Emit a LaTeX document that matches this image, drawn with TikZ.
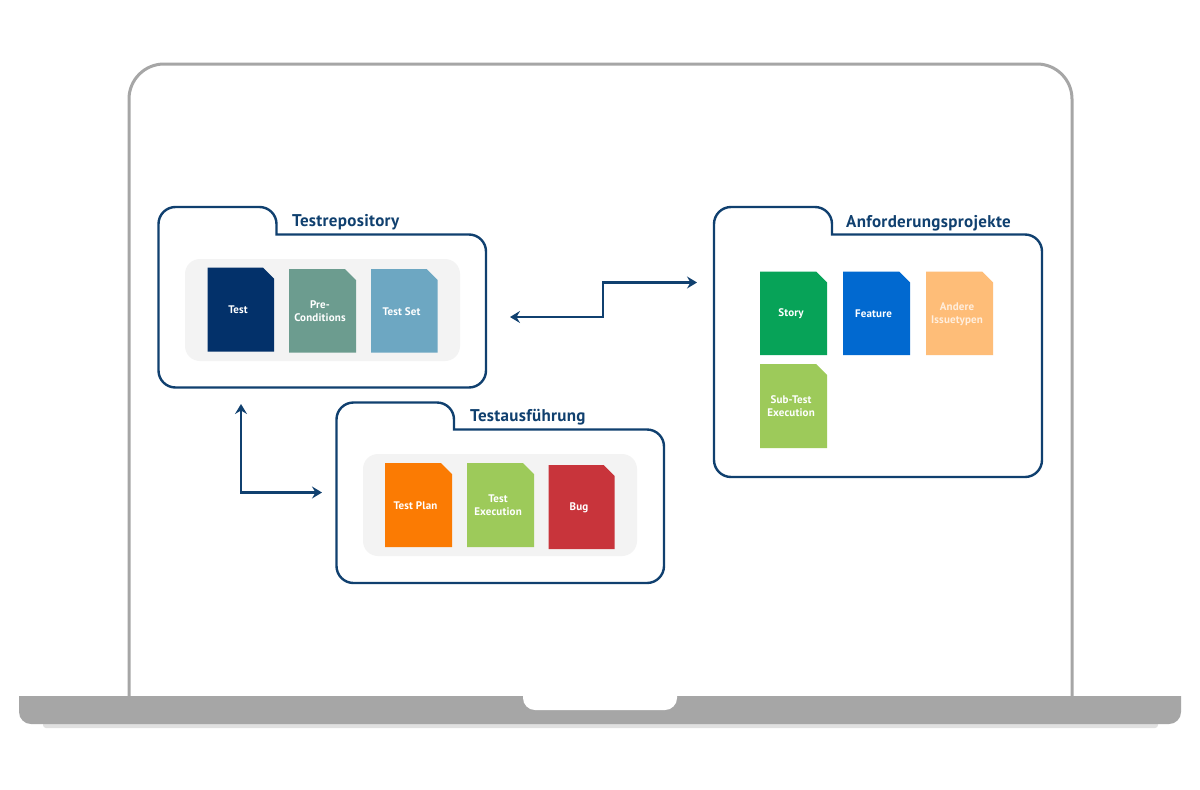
\documentclass[tikz,border=0pt]{standalone}
\usepackage{fontspec}
\setmainfont{PT Sans}
\newfontfamily\titlefont[LetterSpace=1.8]{PT Sans}
\newfontfamily\labelfont[LetterSpace=1.5]{PT Sans}
\usetikzlibrary{arrows.meta}
\definecolor{navy}{HTML}{10406F}
\definecolor{frameg}{HTML}{A6A6A6}
\definecolor{panelg}{HTML}{F3F3F3}
\definecolor{dTest}{HTML}{03316A}
\definecolor{dPre}{HTML}{6C9C8F}
\definecolor{dSet}{HTML}{6DA7C2}
\definecolor{dPlan}{HTML}{FB7B03}
\definecolor{dExec}{HTML}{9DCA5A}
\definecolor{dBug}{HTML}{C8343B}
\definecolor{dStory}{HTML}{07A358}
\definecolor{dFeat}{HTML}{0169D0}
\definecolor{dOther}{HTML}{FEBD78}
\colorlet{paletext}{white!75!dOther}
\tikzset{
  x=1pt,y=-1pt,
  folderline/.style={draw=navy,line width=2.4pt,fill=white,line cap=rect,rounded corners=17pt},
  paneltile/.style={fill=panelg,rounded corners=15pt},
  foldertitle/.style={text=navy,font=\titlefont\fontsize{17}{19}\selectfont\bfseries,anchor=base west,inner sep=0pt},
  doclabel/.style={text=white,font=\labelfont\fontsize{11}{13}\selectfont\bfseries,align=center,inner sep=0pt},
  flow/.style={draw=navy,line width=2.2pt,line join=miter,{Stealth[length=10pt,width=12pt,inset=3.5pt]}-{Stealth[length=10pt,width=12pt,inset=3.5pt]}},
}
\newcommand{\docsheet}[8]{% name,x0,y0,x1,y1,colour,label x,label
  \fill[#6] (#2,#3) -- ({#4-11},#3) -- (#4,{#3+11}) -- (#4,#5) -- (#2,#5) -- cycle;
  \node[doclabel] (#1) at (#7,{(#3+#5)/2+0.5}) {#8};
}
\newcommand{\folderpath}[6]{% left,top,tabx,shelf,right,bottom
  \draw[folderline] (#3,#4) -- (#5,#4) -- (#5,#6) -- (#1,#6) -- (#1,#2) -- (#3,#2) -- (#3,#4);
}
\begin{document}
\begin{tikzpicture}
\useasboundingbox (0,0) rectangle (1200,790);
\fill[white] (0,0) rectangle (1200,790);
% laptop
\fill[frameg!35!white,rounded corners=3pt] (43,716) rectangle (1158,728);
\draw[frameg,line width=3pt,rounded corners=35pt] (129,700) -- (129,64) -- (1072,64) -- (1072,700);
\begin{scope}
\clip (0,696) rectangle (1200,790);
\fill[frameg,rounded corners=12pt] (19,660) rectangle (1181,724);
\fill[white,rounded corners=12pt] (523,660) rectangle (677,710);
\end{scope}
% folders
\folderpath{158.5}{207}{276.5}{234.5}{486}{387.5}
\folderpath{336.5}{402.5}{454}{429.5}{664}{583}
\folderpath{714}{207}{832}{234.5}{1042}{477}
\node[foldertitle] (t1) at (292,226.5) {Testrepository};
\node[foldertitle] (t2) at (470,421.5) {Testausführung};
\node[foldertitle] (t3) at (846,227.5) {Anforderungsprojekte};
% panels
\fill[paneltile] (185,259) rectangle (460,361);
\fill[paneltile] (363,454) rectangle (637,556);
% documents
\docsheet{dA}{207.5}{267.5}{274}{351.5}{dTest}{238}{Test}
\docsheet{dB}{289}{269}{356}{352.5}{dPre}{320}{Pre-\\Conditions}
\docsheet{dC}{371}{269}{437.5}{352.5}{dSet}{401.5}{Test Set}
\docsheet{dD}{385}{463}{452}{547}{dPlan}{415.5}{Test Plan}
\docsheet{dE}{467}{463}{534}{547}{dExec}{498}{Test\\Execution}
\docsheet{dF}{548.5}{465}{614.5}{549}{dBug}{579}{Bug}
\docsheet{dG}{760}{271.5}{827}{355}{dStory}{791}{Story}
\docsheet{dH}{843}{271.5}{910}{355}{dFeat}{873.5}{Feature}
\docsheet{dI}{926}{271.5}{993}{355}{dOther}{957}{\color{paletext}Andere\\\color{paletext}Issuetypen}
\docsheet{dJ}{760}{364}{827}{448}{dExec}{791}{Sub-Test\\Execution}
% connectors
\coordinate (a1) at (510,317);
\coordinate (a2) at (697,282.5);
\coordinate (a3) at (603,317);
\coordinate (a4) at (603,282.5);
\coordinate (b1) at (241,404);
\coordinate (b2) at (322,492.5);
\coordinate (b3) at (241,492.5);
\draw[flow] (a1) -- (a3) -- (a4) -- (a2);
\draw[flow] (b1) -- (b3) -- (b2);
\end{tikzpicture}
\end{document}
